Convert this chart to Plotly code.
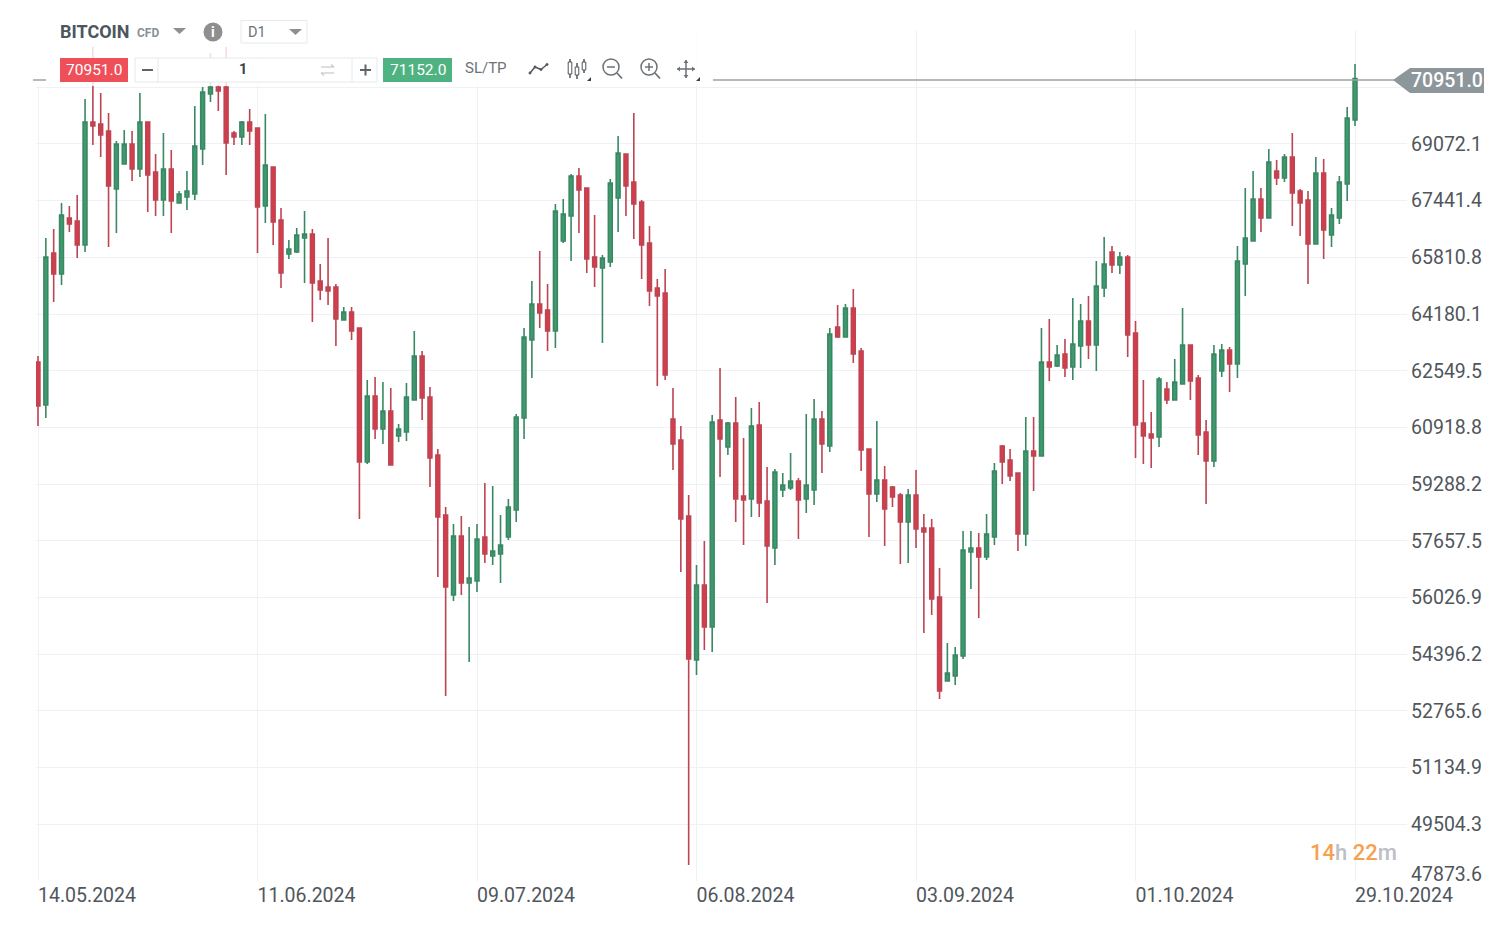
import pandas as pd
import plotly.graph_objects as go

# --- DATA (daily candles) ---
START_DATE = "2024-05-14"

opens = [
    62800, 61563, 65935, 65331, 66941, 66855, 66165, 69702, 69645, 69443,
    67775, 68494, 69070, 68350, 69702, 68264, 67459, 68350, 67373, 67545,
    67632, 68926, 70508, 70709, 70709, 69386, 69271, 69702, 69530, 67287,
    68408, 66884, 65906, 65963, 66366, 66481, 65129, 64957, 64957, 64008,
    64238, 63778, 59924, 61822, 60873, 61391, 60672, 60787, 61707, 62972,
    61793, 60125, 58399, 56099, 57796, 56445, 56502, 57767, 57221, 57278,
    57767, 58543, 61189, 63433, 64468, 64295, 63691, 66280, 66999, 68149,
    67804, 65819, 65503, 65676, 67517, 68782, 67977, 67402, 66222, 64928,
    64784, 61161, 60557, 58371, 54229, 56387, 55179, 61132, 60355, 61045,
    58946, 58860, 60988, 58802, 57451, 59119, 59176, 59377, 58860, 59119,
    61161, 60384, 63807, 63519, 64353, 63116, 60298, 59004, 59406, 59205,
    58975, 58198, 58975, 58026, 58026, 56041, 53625, 53769, 54344, 57336,
    57451, 57192, 57767, 60384, 59981, 59607, 57853, 60241, 60097, 62800,
    62685, 63030, 62656, 63260, 63979, 63289, 64928, 65963, 65590, 65819,
    63634, 61045, 60729, 60643, 62023, 61707, 62167, 63289, 62340, 60787,
    59953, 62541, 63145, 62742, 65618, 66280, 67488, 66941, 68293, 68092,
    68696, 67718, 67459, 66194, 68235, 66452, 66941, 67919, 69760,
]
highs = [
    62972, 66366, 66625, 67373, 67287, 67603, 70364, 71859, 70536, 69961,
    69156, 69472, 69443, 70536, 69702, 68782, 69386, 68897, 67718, 68293,
    70162, 70709, 71687, 70767, 71859, 69443, 69731, 70076, 69530, 69932,
    68408, 67229, 66309, 66654, 67143, 66625, 65618, 66366, 65043, 64382,
    64382, 63778, 62282, 62368, 62225, 62052, 61017, 62196, 63691, 63116,
    62081, 60298, 58630, 58141, 58371, 58054, 58141, 59320, 59235, 58399,
    58860, 61304, 63778, 65129, 65992, 65043, 67344, 67488, 68207, 68379,
    67804, 67028, 65877, 68063, 69300, 68782, 69961, 67459, 66711, 65187,
    65475, 62052, 60959, 58975, 56962, 57652, 61276, 62627, 61074, 61793,
    60614, 61477, 61650, 59780, 59723, 59607, 60183, 59464, 61304, 61736,
    61391, 63778, 64439, 64468, 64899, 63202, 60298, 61103, 59809, 59235,
    59033, 59147, 59694, 58428, 58284, 56875, 54718, 54604, 57939, 57939,
    57882, 58428, 59895, 60413, 60298, 59607, 61218, 61218, 63778, 64037,
    63289, 63461, 64640, 64468, 64698, 65705, 66395, 66136, 65963, 65877,
    63979, 62282, 61362, 62368, 62225, 62886, 64353, 63289, 62426, 61132,
    63289, 63317, 63231, 66136, 67804, 68293, 67804, 68926, 68609, 68782,
    69386, 67775, 67718, 68696, 68638, 67229, 68149, 70134, 71370,
]
lows = [
    60959, 61189, 64525, 65015, 66539, 65791, 65963, 69041, 68696, 66107,
    66510, 68494, 68005, 68121, 67114, 66999, 66999, 66510, 67373, 67172,
    67459, 68466, 70277, 70019, 68178, 69041, 69041, 69041, 65935, 66798,
    66165, 64928, 65762, 65935, 65072, 63951, 64583, 64439, 63260, 64008,
    63433, 58284, 59866, 60585, 60442, 59837, 60499, 60528, 61707, 61132,
    59205, 56617, 53194, 55926, 56099, 54172, 56185, 57019, 56962, 56445,
    57681, 58198, 60585, 62340, 63778, 63116, 63202, 66222, 65705, 66510,
    65360, 64957, 63346, 65532, 66539, 66999, 66337, 65187, 64411, 62110,
    62282, 59694, 56760, 48333, 53798, 54517, 54459, 59493, 60125, 58198,
    57537, 58342, 58342, 55868, 56962, 58917, 59119, 57709, 58457, 58687,
    59607, 60212, 63490, 63519, 62771, 59665, 57767, 58774, 57508, 58630,
    56990, 57019, 57451, 55006, 55524, 53108, 53625, 53511, 54258, 56272,
    55437, 57106, 57537, 59291, 59377, 57364, 57508, 59090, 60097, 62253,
    62656, 62368, 62282, 62627, 62886, 62541, 64669, 65360, 65331, 62944,
    60039, 59866, 59751, 60355, 61592, 61707, 62167, 61707, 60125, 58716,
    59780, 62368, 61937, 62340, 64698, 66280, 66539, 66941, 67890, 67977,
    66711, 66424, 65043, 66194, 65762, 66107, 66769, 67430, 69587,
]
closes = [
    61534, 65819, 65331, 67028, 66769, 66165, 69702, 69587, 69328, 67862,
    69070, 69070, 68350, 69702, 68178, 67459, 68350, 67430, 67632, 67718,
    69012, 70565, 70709, 70594, 69098, 69271, 69702, 69443, 67258, 68466,
    66826, 65360, 66050, 66452, 66481, 65072, 64871, 64842, 64037, 64238,
    63691, 59924, 61822, 60873, 61391, 59837, 60873, 61793, 62972, 61765,
    60039, 58342, 56329, 57796, 56445, 56588, 57709, 57278, 57364, 57537,
    58630, 61218, 63519, 64468, 64209, 63691, 67143, 67057, 68149, 67747,
    65762, 65532, 65791, 67948, 68811, 67862, 67344, 66165, 64842, 64698,
    62426, 60442, 58284, 54258, 56387, 55179, 61074, 60585, 61045, 58860,
    58831, 60959, 58745, 57508, 59636, 59262, 59377, 58831, 59262, 61161,
    60442, 63605, 63519, 64353, 63030, 60269, 59004, 59406, 58572, 58917,
    58198, 58975, 57997, 57911, 55984, 53338, 53856, 54373, 57393, 57451,
    57192, 57853, 59665, 59924, 59521, 57853, 60241, 60097, 62800, 62656,
    63001, 62627, 63317, 63979, 63289, 64986, 65618, 65590, 65819, 63577,
    60988, 60672, 60614, 62311, 61707, 62225, 63289, 62253, 60701, 59953,
    63030, 63145, 62742, 65705, 66366, 67488, 66941, 68552, 68092, 68696,
    67660, 67373, 66194, 68235, 66596, 67028, 67977, 69817, 70951,
]

price_ticks = [
    47873.6, 49504.3, 51134.9, 52765.6, 54396.2, 56026.9, 57657.5, 59288.2,
    60918.8, 62549.5, 64180.1, 65810.8, 67441.4, 69072.1, 70702.8,
]
# bottom label sits above its line, top one is hidden by the price tag
price_labels = [
    "", "49504.3", "51134.9", "52765.6", "54396.2", "56026.9", "57657.5", "59288.2",
    "60918.8", "62549.5", "64180.1", "65810.8", "67441.4", "69072.1", "",
]
date_ticks = ["2024-05-14", "2024-06-11", "2024-07-09", "2024-08-06", "2024-09-03", "2024-10-01", "2024-10-29"]
date_labels = ["14.05.2024", "11.06.2024", "09.07.2024", "06.08.2024", "03.09.2024", "01.10.2024", "29.10.2024"]

SELL_PRICE = "70951.0"
BUY_PRICE = "71152.0"

# --- STYLE ---
FONT = "Roboto"
RED = "#d63c4a"
RED_LINE = "#bd4452"
GREEN = "#3f9a70"
GREEN_LINE = "#3a8863"
GRID = "#f0f1f5"
TEXT = "#50565c"
ICON = "#6c7278"

# page body has an 8px margin, so the figure starts at 8,8
WIDTH, HEIGHT = 1482, 914
LEFT, RIGHT, TOP, BOTTOM = 36, 1407, 30, 881  # plot area in screen pixels


def fx(px):
    return (px - LEFT) / (RIGHT - LEFT)


def fy(py):
    return (BOTTOM - py) / (BOTTOM - TOP)


shapes = []
notes = []


def poly(points, fill, closed=True):
    path = "M " + " L ".join(f"{fx(x):.5f},{fy(y):.5f}" for x, y in points)
    if closed:
        path += " Z"
    shapes.append(dict(type="path", path=path, xref="paper", yref="paper", layer="above",
                       fillcolor=fill, line=dict(width=0)))


def box(x0, y0, x1, y1, fill, border=None):
    shapes.append(dict(type="rect", x0=fx(x0), x1=fx(x1), y0=fy(y0), y1=fy(y1), xref="paper", yref="paper",
                       layer="above", fillcolor=fill,
                       line=dict(width=1 if border else 0, color=border or fill)))


def seg(x0, y0, x1, y1, color=ICON, width=1.5):
    shapes.append(dict(type="line", x0=fx(x0), x1=fx(x1), y0=fy(y0), y1=fy(y1), xref="paper", yref="paper",
                       layer="above", line=dict(color=color, width=width)))


def ring(cx, cy, r, fill="rgba(0,0,0,0)", color=ICON, width=1.5):
    shapes.append(dict(type="circle", x0=fx(cx - r), x1=fx(cx + r), y0=fy(cy + r), y1=fy(cy - r),
                       xref="paper", yref="paper", layer="above", fillcolor=fill,
                       line=dict(color=color, width=width)))


def label(x, y, text, size, color=TEXT, anchor="left", weight=400):
    notes.append(dict(x=fx(x), y=fy(y), xref="paper", yref="paper", text=text, showarrow=False,
                      xanchor=anchor, yanchor="middle", borderpad=0, borderwidth=0,
                      font=dict(family=FONT, size=size, color=color, weight=weight)))


# --- TOOLBAR ---
box(33, 20, 706, 86, "rgba(255,255,255,0.82)")

label(60, 31.5, "BITCOIN", 18, "#4b5660", weight=700)
label(137, 32.5, "CFD", 12, "#8a9096", weight=700)
poly([(173, 28), (186, 28), (179.5, 34)], "#8d8f92")
ring(213, 32, 9.5, fill="#8f8f8f", color="#8f8f8f", width=0)
label(213, 32, "i", 14, "#ffffff", anchor="center", weight=700)

box(241, 20.5, 307, 43, "#ffffff", "#e6e8ec")
label(248, 33, "D1", 14.5, ICON)
poly([(289, 29), (302, 29), (295.5, 35)], "#8d8f92")

box(60, 58, 128, 82, "#ee4f58")
label(94, 69.5, SELL_PRICE, 15.5, "#ffffff", anchor="center")

box(135, 58, 377, 82, "#ffffff", "#e6e8ec")
seg(158, 58, 158, 82, "#e6e8ec", 1)
seg(352, 58, 352, 82, "#e6e8ec", 1)
seg(142, 70, 153, 70, "#5f6468", 2)
seg(360, 70, 371, 70, "#5f6468", 2)
seg(365.5, 64.5, 365.5, 75.5, "#5f6468", 2)
label(243, 69.5, "1", 14.5, "#3c4248", anchor="center", weight=700)
# swap arrows
for y0, x0, x1 in [(67, 321, 334), (73, 334, 321)]:
    seg(x0, y0, x1, y0, "#c5c8cc", 1.2)
seg(334, 67, 331, 64.5, "#c5c8cc", 1.2)
seg(321, 73, 324, 75.5, "#c5c8cc", 1.2)

box(383, 58, 452, 82, "#4fb381")
label(417.5, 69.5, BUY_PRICE, 15.5, "#ffffff", anchor="center")
label(465, 68, "SL/TP", 15, ICON)

# line icon
for a, b in [((530, 73), (535, 67)), ((535, 67), (541, 69.5)), ((541, 69.5), (547, 64.5))]:
    seg(a[0], a[1], b[0], b[1], "#55595e", 1.5)
for px_, py_ in [(530, 73), (535, 67), (541, 69.5), (547, 64.5)]:
    ring(px_, py_, 1.2, fill="#55595e", color="#55595e", width=0.5)
# candles icon
for cx, y0, y1, b0, b1 in [(570, 59, 78, 62, 74), (577, 63, 79, 67, 75), (584, 59, 73, 62, 70)]:
    seg(cx, y0, cx, y1, "#4f5459", 1.5)
    box(cx - 1.8, b0, cx + 1.8, b1, "#ffffff", "#4f5459")
poly([(587, 81), (591, 81), (591, 77)], "#3c4046")
# zoom out / zoom in
ring(611, 67, 8, color="#6b7176")
seg(617, 73, 622, 78.5, "#6b7176", 1.8)
seg(607, 67, 615, 67, "#6b7176", 1.5)
ring(649, 67, 8, color="#6b7176")
seg(655, 73, 660, 78.5, "#6b7176", 1.8)
seg(645, 67, 653, 67, "#6b7176", 1.5)
seg(649, 63, 649, 71, "#6b7176", 1.5)
# move icon
seg(677, 69, 695, 69, "#6b7176", 1.5)
seg(686, 60, 686, 78, "#6b7176", 1.5)
for a, b, c in [((677, 69), (680, 66.5), (680, 71.5)), ((695, 69), (692, 66.5), (692, 71.5)),
                ((686, 60), (683.5, 63), (688.5, 63)), ((686, 78), (683.5, 75), (688.5, 75))]:
    poly([a, b, c], "#6b7176")
poly([(696, 81), (700, 81), (700, 77)], "#3c4046")

# --- CURRENT PRICE LINE AND TAG ---
seg(33, 80, 46, 80, "#9aa2a6", 1.5)
seg(713, 80, 1394, 80, "#9aa2a6", 1.5)
poly([(1393, 80), (1410, 68), (1484, 68), (1484, 93), (1410, 93)], "#8d969b")
label(1447, 80.5, SELL_PRICE, 19.5, "#ffffff", anchor="center", weight=500)

# --- OTHER TEXT ---
label(1411, 874, "47873.6", 19.5, TEXT)
orange = "#f5a250"
grey = "#bcc0c4"
label(1310, 852,
      f'<span style="color:{orange}">14</span><span style="color:{grey}">h</span> '
      f'<span style="color:{orange}">22</span><span style="color:{grey}">m</span>',
      22, grey, weight=500)

# --- FIGURE ---
dates = pd.date_range(START_DATE, periods=len(closes), freq="D")
day_ms = 86400000
first = dates[0].value // 1000000
left_edge = pd.to_datetime(first - 0.255 * day_ms, unit="ms")
right_edge = pd.to_datetime(first + 174.63 * day_ms, unit="ms")

fig = go.Figure(go.Candlestick(
    x=dates, open=opens, high=highs, low=lows, close=closes,
    increasing=dict(fillcolor=GREEN, line=dict(color=GREEN_LINE, width=1.6)),
    decreasing=dict(fillcolor=RED, line=dict(color=RED_LINE, width=1.6)),
    whiskerwidth=0,
    showlegend=False,
))

fig.update_layout(
    width=WIDTH, height=HEIGHT,
    margin=dict(l=LEFT - 8, r=WIDTH + 8 - RIGHT, t=TOP - 8, b=HEIGHT + 8 - BOTTOM, pad=0, autoexpand=False),
    paper_bgcolor="white", plot_bgcolor="white",
    font=dict(family=FONT, color=TEXT),
    boxgap=0.3,
    shapes=shapes, annotations=notes,
    xaxis=dict(
        type="date", range=[left_edge, right_edge], rangeslider=dict(visible=False),
        tickmode="array", tickvals=date_ticks, ticktext=date_labels, automargin=False,
        tickfont=dict(size=19.5, color=TEXT), ticklabelshift=49, ticks="", tickangle=0,
        gridcolor=GRID, gridwidth=1, showline=False, zeroline=False,
    ),
    yaxis=dict(
        side="right", range=[47873.6, 72348],
        tickmode="array", tickvals=price_ticks, ticktext=price_labels, automargin=False,
        tickfont=dict(size=19.5, color=TEXT), ticks="", ticklabelstandoff=3,
        gridcolor=GRID, gridwidth=1, showline=False, zeroline=False,
    ),
)

fig.write_html("out.html")
